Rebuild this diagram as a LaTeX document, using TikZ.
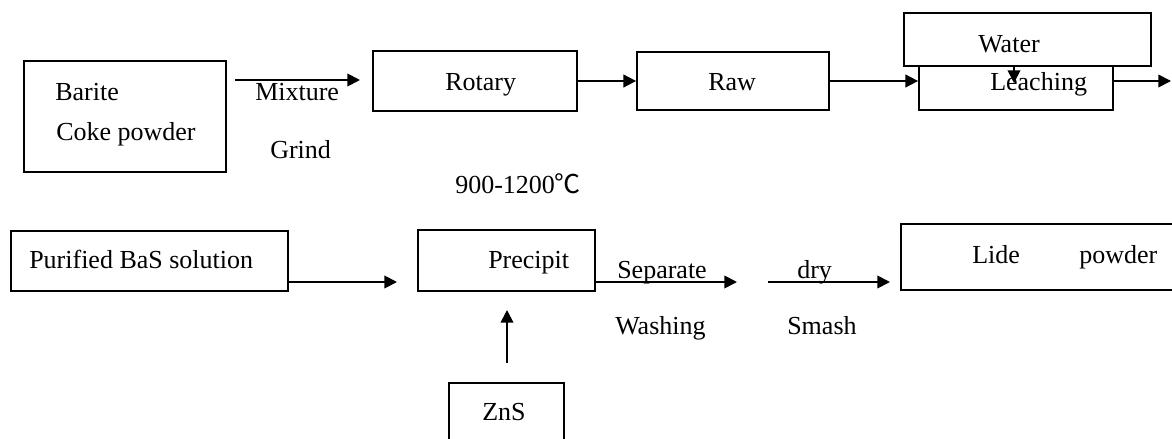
\documentclass[tikz,border=0pt]{standalone}
\usepackage{fontspec}
\setmainfont{Liberation Serif}
\newfontfamily\cjkfont{Noto Sans CJK SC}
\usetikzlibrary{arrows.meta,fit}
\begin{document}
\begin{tikzpicture}[x=0.75pt,y=-0.75pt,
  box/.style={draw, line width=1.35pt, inner sep=0pt},
  lbl/.style={anchor=base west, inner sep=0pt, font=\fontsize{19.5}{22}\selectfont},
  arr/.style={line width=1.35pt, -{Triangle[length=9.5pt,width=9.5pt]}}]
\clip (0,0) rectangle (1172,439);
\fill[white] (0,0) rectangle (1172,439);
% boxes
\node[box, fit={(24,61)(226,172)}] (barite) {};
\node[box, fit={(373,51)(577,111)}] (rotary) {};
\node[box, fit={(637,52)(829,110)}] (raw) {};
\node[box, fit={(919,66)(1113,110)}] (leach) {};
\node[box, fit={(904,13)(1151,66)}] (water) {};
\node[box, fit={(11,231)(288,291)}] (purified) {};
\node[box, fit={(418,230)(595,291)}] (precip) {};
\node[box, fit={(901,224)(1195,290)}] (lide) {};
\node[box, fit={(449,383)(564,450)}] (zns) {};
% texts
\node[lbl] (tBarite) at (55,100) {Barite};
\node[lbl] (tCoke) at (56,140) {Coke powder};
\node[lbl] (tMix) at (255,100) {Mixture};
\node[lbl] (tGrind) at (270,158) {Grind};
\node[lbl] (tRot) at (445,90) {Rotary};
\node[lbl] (tRaw) at (708,90) {Raw};
\node[lbl] (tWater) at (978,52) {Water};
\node[lbl] (tLeach) at (990,90) {Leaching};
\node[lbl] (tTemp) at (455,193) {900-1200{\cjkfont ℃}};
\node[lbl] (tPur) at (29,268) {Purified BaS solution};
\node[lbl] (tPre) at (488,268) {Precipit};
\node[lbl] (tSep) at (617,278) {Separate};
\node[lbl] (tDry) at (797,278) {dry};
\node[lbl] (tWash) at (615,334) {Washing};
\node[lbl] (tSmash) at (787,334) {Smash};
\node[lbl] (tLide) at (972,263) {Lide};
\node[lbl] (tPow) at (1079,263) {powder};
\node[lbl] (tZnS) at (482,420) {ZnS};
% connectors
\coordinate (m1) at (235,80);
\coordinate (m2) at (360,80);
\draw[arr] (m1) -- (m2);
\draw[arr] (rotary.east) -- (raw.west);
\draw[arr] (raw.east) -- (raw.east -| leach.west);
\coordinate (out) at (1171,81);
\draw[arr] (leach.east |- out) -- (out);
\coordinate (wd) at (1014,83);
\draw[arr] (water.south -| wd) -- (wd);
\coordinate (p2) at (397,282);
\draw[arr] (purified.east |- p2) -- (p2);
\coordinate (s2) at (737,282);
\draw[arr] (precip.east |- s2) -- (s2);
\coordinate (d1) at (768,282);
\coordinate (d2) at (890,282);
\draw[arr] (d1) -- (d2);
\coordinate (z1) at (507,363);
\coordinate (z2) at (507,310);
\draw[arr] (z1) -- (z2);
\end{tikzpicture}
\end{document}
